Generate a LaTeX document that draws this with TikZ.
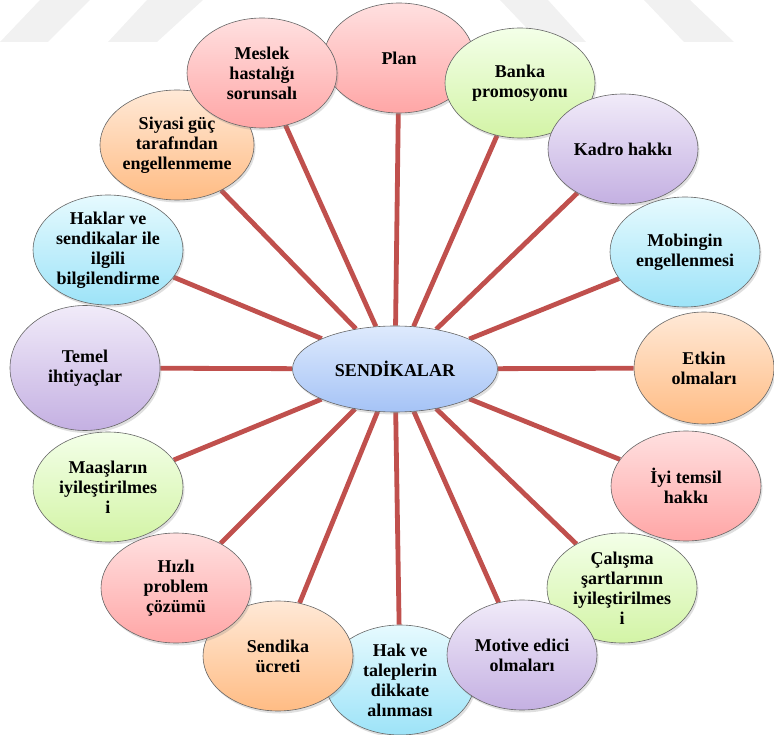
\documentclass[tikz,border=0pt]{standalone}
\usepackage{fontspec}
\setmainfont{Liberation Serif}
\usetikzlibrary{shapes.geometric,shadows,backgrounds}
\definecolor{pkT}{HTML}{FFE0E0}\definecolor{pkB}{HTML}{FFA6A6}
\definecolor{grT}{HTML}{F3FFE8}\definecolor{grB}{HTML}{D3F4A6}
\definecolor{puT}{HTML}{F1EBF9}\definecolor{puB}{HTML}{C4B0E2}
\definecolor{cyT}{HTML}{E6FAFE}\definecolor{cyB}{HTML}{9DE3F8}
\definecolor{orT}{HTML}{FFE9D7}\definecolor{orB}{HTML}{FFBC84}
\definecolor{hubT}{HTML}{DEEAFD}\definecolor{hubB}{HTML}{A5C3F6}
\definecolor{spokered}{HTML}{C0504D}
\definecolor{wmgray}{HTML}{F1F1F1}

\begin{document}
\begin{tikzpicture}[x=1pt,y=-1pt,
  leaf/.style={ellipse,draw=black!60,line width=0.6pt,inner sep=0pt,
    minimum width=150pt,minimum height=110pt,align=center,
    font=\bfseries\fontsize{18}{20}\selectfont,
    drop shadow={opacity=0.25,shadow xshift=1.5pt,shadow yshift=-2.5pt}},
  pk/.style={leaf,top color=pkT,bottom color=pkB},
  gr/.style={leaf,top color=grT,bottom color=grB},
  pu/.style={leaf,top color=puT,bottom color=puB},
  cy/.style={leaf,top color=cyT,bottom color=cyB},
  or/.style={leaf,top color=orT,bottom color=orB},
  spoke/.style={spokered,line width=4.8pt}]
\useasboundingbox (0,0) rectangle (774,735);
% hub and the sixteen leaves, clockwise from the top
\node[leaf,top color=hubT,bottom color=hubB,minimum width=205pt,minimum height=86pt] (hub) at (395,369) {SEND\.{I}KALAR};
\node[pk] (plan) at (399,58) {Plan};
\node[cy] (hak) at (400,680) {Hak ve\\taleplerin\\dikkate\\alınması};
\node[gr] (banka) at (520,83) {Banka\\promosyonu};
\node[pu] (kadro) at (623,149) {Kadro hakkı};
\node[cy] (mobing) at (685,252) {Mobingin\\engellenmesi};
\node[or,minimum width=140pt,minimum height=112pt] (etkin) at (704,368) {Etkin\\olmaları};
\node[pk] (iyi) at (686,486) {\.{I}yi temsil\\hakkı};
\node[gr] (calisma) at (622,588) {Çalışma\\şartlarının\\iyileştirilmes\\i};
\node[pu] (motive) at (522,655) {Motive edici\\olmaları};
\node[or] (ucret) at (278,656) {Sendika\\ücreti};
\node[pk] (hizli) at (176,588) {Hızlı\\problem\\çözümü};
\node[gr] (maas) at (108,487) {Maaşların\\iyileştirilmes\\i};
\node[pu,minimum height=125pt] (temel) at (85,368) {Temel\\ihtiyaçlar};
\node[cy] (haklar) at (108,250) {Haklar ve\\sendikalar ile\\ilgili\\bilgilendirme};
\node[or] (siyasi) at (177,145) {Siyasi güç\\tarafından\\engellenmeme};
\node[pk] (meslek) at (262,73) {Meslek\\hastalığı\\sorunsalı};
\begin{scope}[on background layer]
\fill[wmgray] (40,0)--(90,0)--(48,42)--(0,42)--cycle;
\fill[wmgray] (147,0)--(203,0)--(157,42)--(108,42)--cycle;
\fill[wmgray] (500,0)--(548,0)--(586,42)--(540,42)--cycle;
\fill[wmgray] (644,0)--(690,0)--(734,42)--(684,42)--cycle;
\foreach \n in {plan,banka,kadro,mobing,etkin,iyi,calisma,motive,hak,ucret,hizli,maas,temel,haklar,siyasi,meslek}
  \draw[spoke] (hub)--(\n);
\end{scope}
\end{tikzpicture}
\end{document}
